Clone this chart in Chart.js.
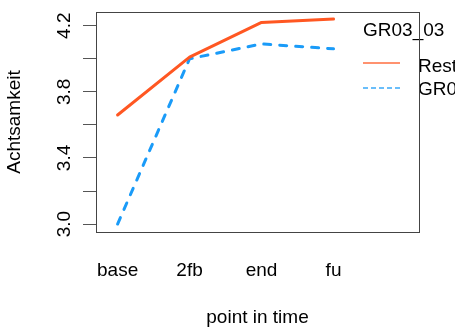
<!DOCTYPE html>
<html>
<head>
<meta charset="utf-8">
<script src="https://cdn.jsdelivr.net/npm/chart.js@4/dist/chart.umd.min.js"></script>
<style>
  html, body { margin: 0; padding: 0; background: #fff; overflow: hidden; }
  canvas { display: block; }
</style>
</head>
<body>
<canvas id="grafico" width="455" height="335"></canvas>
<script>
// dados
const categorias = ['base', '2fb', 'end', 'fu'];
const valoresRest = [3.66, 4.01, 4.22, 4.24];
const valoresGR = [3.00, 4.00, 4.09, 4.06];
const ticksY = [3.0, 3.2, 3.4, 3.6, 3.8, 4.0, 4.2];
const rotulosY = ['3.0', '', '3.4', '', '3.8', '', '4.2'];
const tituloLegenda = 'GR03_03';
const nomesSeries = ['Rest', 'GR03'];

const corRest = '#FF5722';
const corGR = '#1A9BF8';
const fonte = '19px "Liberation Sans", Arial, sans-serif';

const pontos = valores => valores.map((v, i) => ({ x: i + 1, y: v }));

// textos dos eixos, moldura e legenda
const extras = {
  id: 'extras',
  afterDraw(chart) {
    const ctx = chart.ctx;
    const area = chart.chartArea;
    const sx = chart.scales.x;
    const sy = chart.scales.y;
    ctx.save();
    ctx.font = fonte;
    ctx.fillStyle = '#000';

    // rótulos do eixo x
    ctx.textAlign = 'center';
    ctx.textBaseline = 'alphabetic';
    categorias.forEach((c, i) => ctx.fillText(c, sx.getPixelForValue(i + 1), 276));
    ctx.fillText('point in time', (area.left + area.right) / 2, 323);

    // rótulos do eixo y (rotacionados)
    ticksY.forEach((v, i) => {
      if (!rotulosY[i]) return;
      ctx.save();
      ctx.translate(70, sy.getPixelForValue(v));
      ctx.rotate(-Math.PI / 2);
      ctx.fillText(rotulosY[i], 0, 0);
      ctx.restore();
    });
    ctx.save();
    ctx.translate(19.5, (area.top + area.bottom) / 2);
    ctx.rotate(-Math.PI / 2);
    ctx.fillText('Achtsamkeit', 0, 0);
    ctx.restore();

    // legenda
    ctx.textAlign = 'left';
    ctx.fillText(tituloLegenda, 363, 36);
    ctx.fillText(nomesSeries[0], 418, 71.5);
    ctx.fillText(nomesSeries[1], 418, 95);
    ctx.lineWidth = 2;
    ctx.globalAlpha = 0.65;
    ctx.strokeStyle = corRest;
    ctx.beginPath(); ctx.moveTo(363, 63); ctx.lineTo(400, 63); ctx.stroke();
    ctx.strokeStyle = corGR;
    ctx.setLineDash([5, 3]);
    ctx.beginPath(); ctx.moveTo(363, 88); ctx.lineTo(400, 88); ctx.stroke();
    ctx.restore();

    // moldura
    ctx.save();
    ctx.strokeStyle = '#444';
    ctx.lineWidth = 1;
    ctx.strokeRect(Math.round(area.left) + 0.5, Math.round(area.top) + 0.5,
      Math.round(area.right - area.left), Math.round(area.bottom - area.top));
    ctx.restore();
  }
};

new Chart(document.getElementById('grafico'), {
  type: 'line',
  data: {
    datasets: [
      { label: nomesSeries[0], data: pontos(valoresRest), borderColor: corRest, borderWidth: 3,
        borderCapStyle: 'round', borderJoinStyle: 'round', pointRadius: 0, tension: 0 },
      { label: nomesSeries[1], data: pontos(valoresGR), borderColor: corGR, borderWidth: 3,
        borderDash: [7, 9], borderCapStyle: 'round', borderJoinStyle: 'round', pointRadius: 0, tension: 0 }
    ]
  },
  options: {
    responsive: false,
    animation: false,
    layout: { padding: { top: 12, right: 36, bottom: 103, left: 0 } },
    plugins: { legend: { display: false }, tooltip: { enabled: false } },
    scales: {
      x: { type: 'linear', min: 0.7, max: 5.1875, display: false },
      y: {
        type: 'linear', min: 2.952, max: 4.283,
        afterBuildTicks: s => { s.ticks = ticksY.map(v => ({ value: v })); },
        afterFit: s => { s.width = 96; },
        ticks: { display: false },
        border: { display: false },
        grid: { drawOnChartArea: false, drawTicks: true, tickLength: 13, color: '#555', lineWidth: 1 }
      }
    }
  },
  plugins: [extras]
});
</script>
</body>
</html>
